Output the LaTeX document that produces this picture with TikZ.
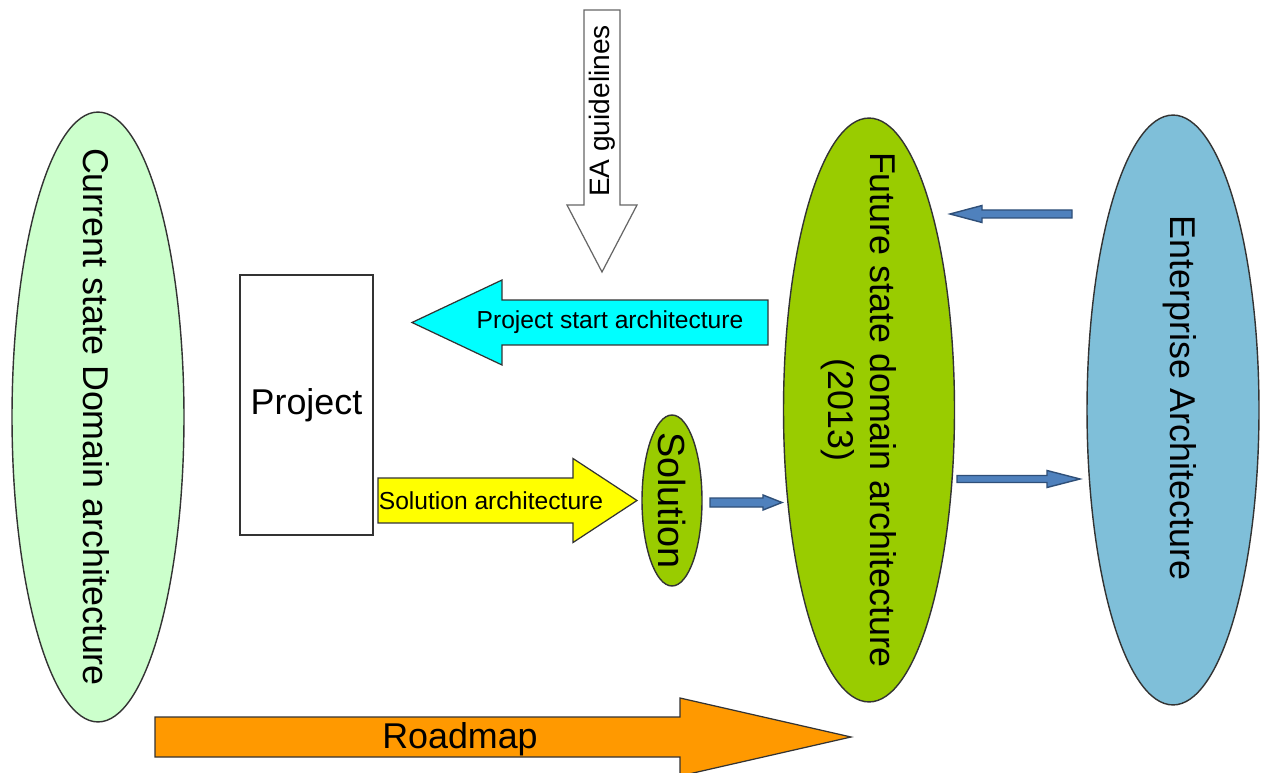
\documentclass[tikz,border=0pt]{standalone}
\usepackage{fontspec}
\setmainfont{Liberation Sans}
\usetikzlibrary{shapes.geometric,calc}

\definecolor{paleGreen}{HTML}{CCFFCC}
\definecolor{leafGreen}{HTML}{99CC00}
\definecolor{skyBlue}{HTML}{7FBFD9}
\definecolor{steelBlue}{HTML}{4F81BD}
\definecolor{steelDark}{HTML}{2F4F78}
\definecolor{roadOrange}{HTML}{FF9900}
\definecolor{startCyan}{HTML}{00FFFF}
\definecolor{solYellow}{HTML}{FFFF00}
\definecolor{edge}{HTML}{333333}

% block arrow: style, tail, tip, shaft half-width, head half-width, head length
\newcommand\blockarrow[6]{%
  \path ($(#3)!#6!(#2)$) coordinate (hb);
  \filldraw[#1] ($(#2)!#4!90:(#3)$) -- ($(hb)!#4!90:(#3)$) -- ($(hb)!#5!90:(#3)$)
    -- (#3) -- ($(hb)!#5!-90:(#3)$) -- ($(hb)!#4!-90:(#3)$) -- ($(#2)!#4!-90:(#3)$) -- cycle;}

\tikzset{
  bigfont/.style={font=\fontsize{20.4}{24}\selectfont},
  midfont/.style={font=\fontsize{14}{17}\selectfont},
  domainoval/.style={ellipse, draw=edge, line width=0.8pt, inner sep=0pt},
  sidetext/.style={rotate=-90, bigfont, align=center, inner sep=0pt},
  bigarrow/.style={draw=edge, line width=0.7pt, line join=miter},
  smallarrow/.style={fill=steelBlue, draw=steelDark, line width=0.8pt, line join=miter},
}

\begin{document}
\begin{tikzpicture}[x=0.02cm, y=-0.02cm]
  \useasboundingbox (0,0) rectangle (1264,773);
  \fill[white] (0,0) rectangle (1264,773);

  % domain ellipses
  \node[domainoval, fill=paleGreen, minimum width=3.44cm, minimum height=12.2cm] (cur) at (98,417) {};
  \node[sidetext] (cur-text) at ($(cur.center)+(-2,0)$) {Current state Domain architecture};

  \node[domainoval, fill=leafGreen, minimum width=3.42cm, minimum height=11.68cm] (fut) at (869,410) {};
  \node[sidetext] (fut-text) at ($(fut.center)+(-10,0)$) {Future state domain architecture\\(2013)};

  \node[domainoval, fill=skyBlue, minimum width=3.44cm, minimum height=11.8cm] (ea) at (1173,410) {};
  \node[sidetext] (ea-text) at ($(ea.center)+(7,-12)$) {Enterprise Architecture};

  \node[domainoval, fill=leafGreen, minimum width=1.2cm, minimum height=3.42cm] (sol) at (672,500.5) {};
  \node[sidetext, font=\fontsize{21.5}{25}\selectfont] (sol-text) at (sol.center) {Solution};

  % project box
  \node[draw=edge, line width=0.8pt, fill=white, minimum width=2.66cm, minimum height=5.2cm,
        inner sep=0pt, bigfont] (proj) at (306.5,405) {Project};

  % EA guidelines (downward)
  \coordinate (eag-tail) at (602,10);
  \coordinate (eag-tip) at (602,272);
  \blockarrow{bigarrow, draw=gray!80!black, fill=white}{eag-tail}{eag-tip}{0.36cm}{0.7cm}{1.34cm}
  \node[rotate=90, font=\fontsize{16}{19}\selectfont] (eag) at (602,111) {EA guidelines};

  % project start architecture
  \coordinate (psa-tail) at ($(fut.center)+(-101,-87.5)$);
  \coordinate (psa-tip) at ($(proj.center)+(105.5,-82.5)$);
  \blockarrow{bigarrow, fill=startCyan}{psa-tail}{psa-tip}{0.45cm}{0.85cm}{1.8cm}
  \node[midfont] (psa) at (610,322.5) {Project start architecture};

  % solution architecture
  \coordinate (sa-tail) at ($(proj.center)+(71.5,95.5)$);
  \coordinate (sa-tip) at ($(sol.center)+(-35,0)$);
  \blockarrow{bigarrow, fill=solYellow}{sa-tail}{sa-tip}{0.45cm}{0.84cm}{1.28cm}
  \node[midfont] (sa) at (491,500.5) {Solution architecture};

  % small connectors
  \coordinate (s2f-tail) at ($(sol.center)+(38,2)$);
  \coordinate (s2f-tip) at ($(fut.center)+(-87,92.5)$);
  \blockarrow{smallarrow}{s2f-tail}{s2f-tip}{0.09cm}{0.15cm}{0.38cm}

  \coordinate (e2f-tail) at ($(ea.center)+(-101,-196)$);
  \coordinate (e2f-tip) at ($(fut.center)+(81,-196)$);
  \blockarrow{smallarrow}{e2f-tail}{e2f-tip}{0.08cm}{0.17cm}{0.64cm}

  \coordinate (f2e-tail) at ($(fut.center)+(88,69)$);
  \coordinate (f2e-tip) at ($(ea.center)+(-93,69)$);
  \blockarrow{smallarrow}{f2e-tail}{f2e-tip}{0.07cm}{0.17cm}{0.66cm}

  % roadmap
  \coordinate (rm-tail) at ($(cur.center)+(57,320)$);
  \coordinate (rm-tip) at ($(fut.center)+(-18,327)$);
  \blockarrow{bigarrow, fill=roadOrange}{rm-tail}{rm-tip}{0.4cm}{0.78cm}{3.42cm}
  \node[bigfont] (rm) at (460,739) {Roadmap};
\end{tikzpicture}
\end{document}
